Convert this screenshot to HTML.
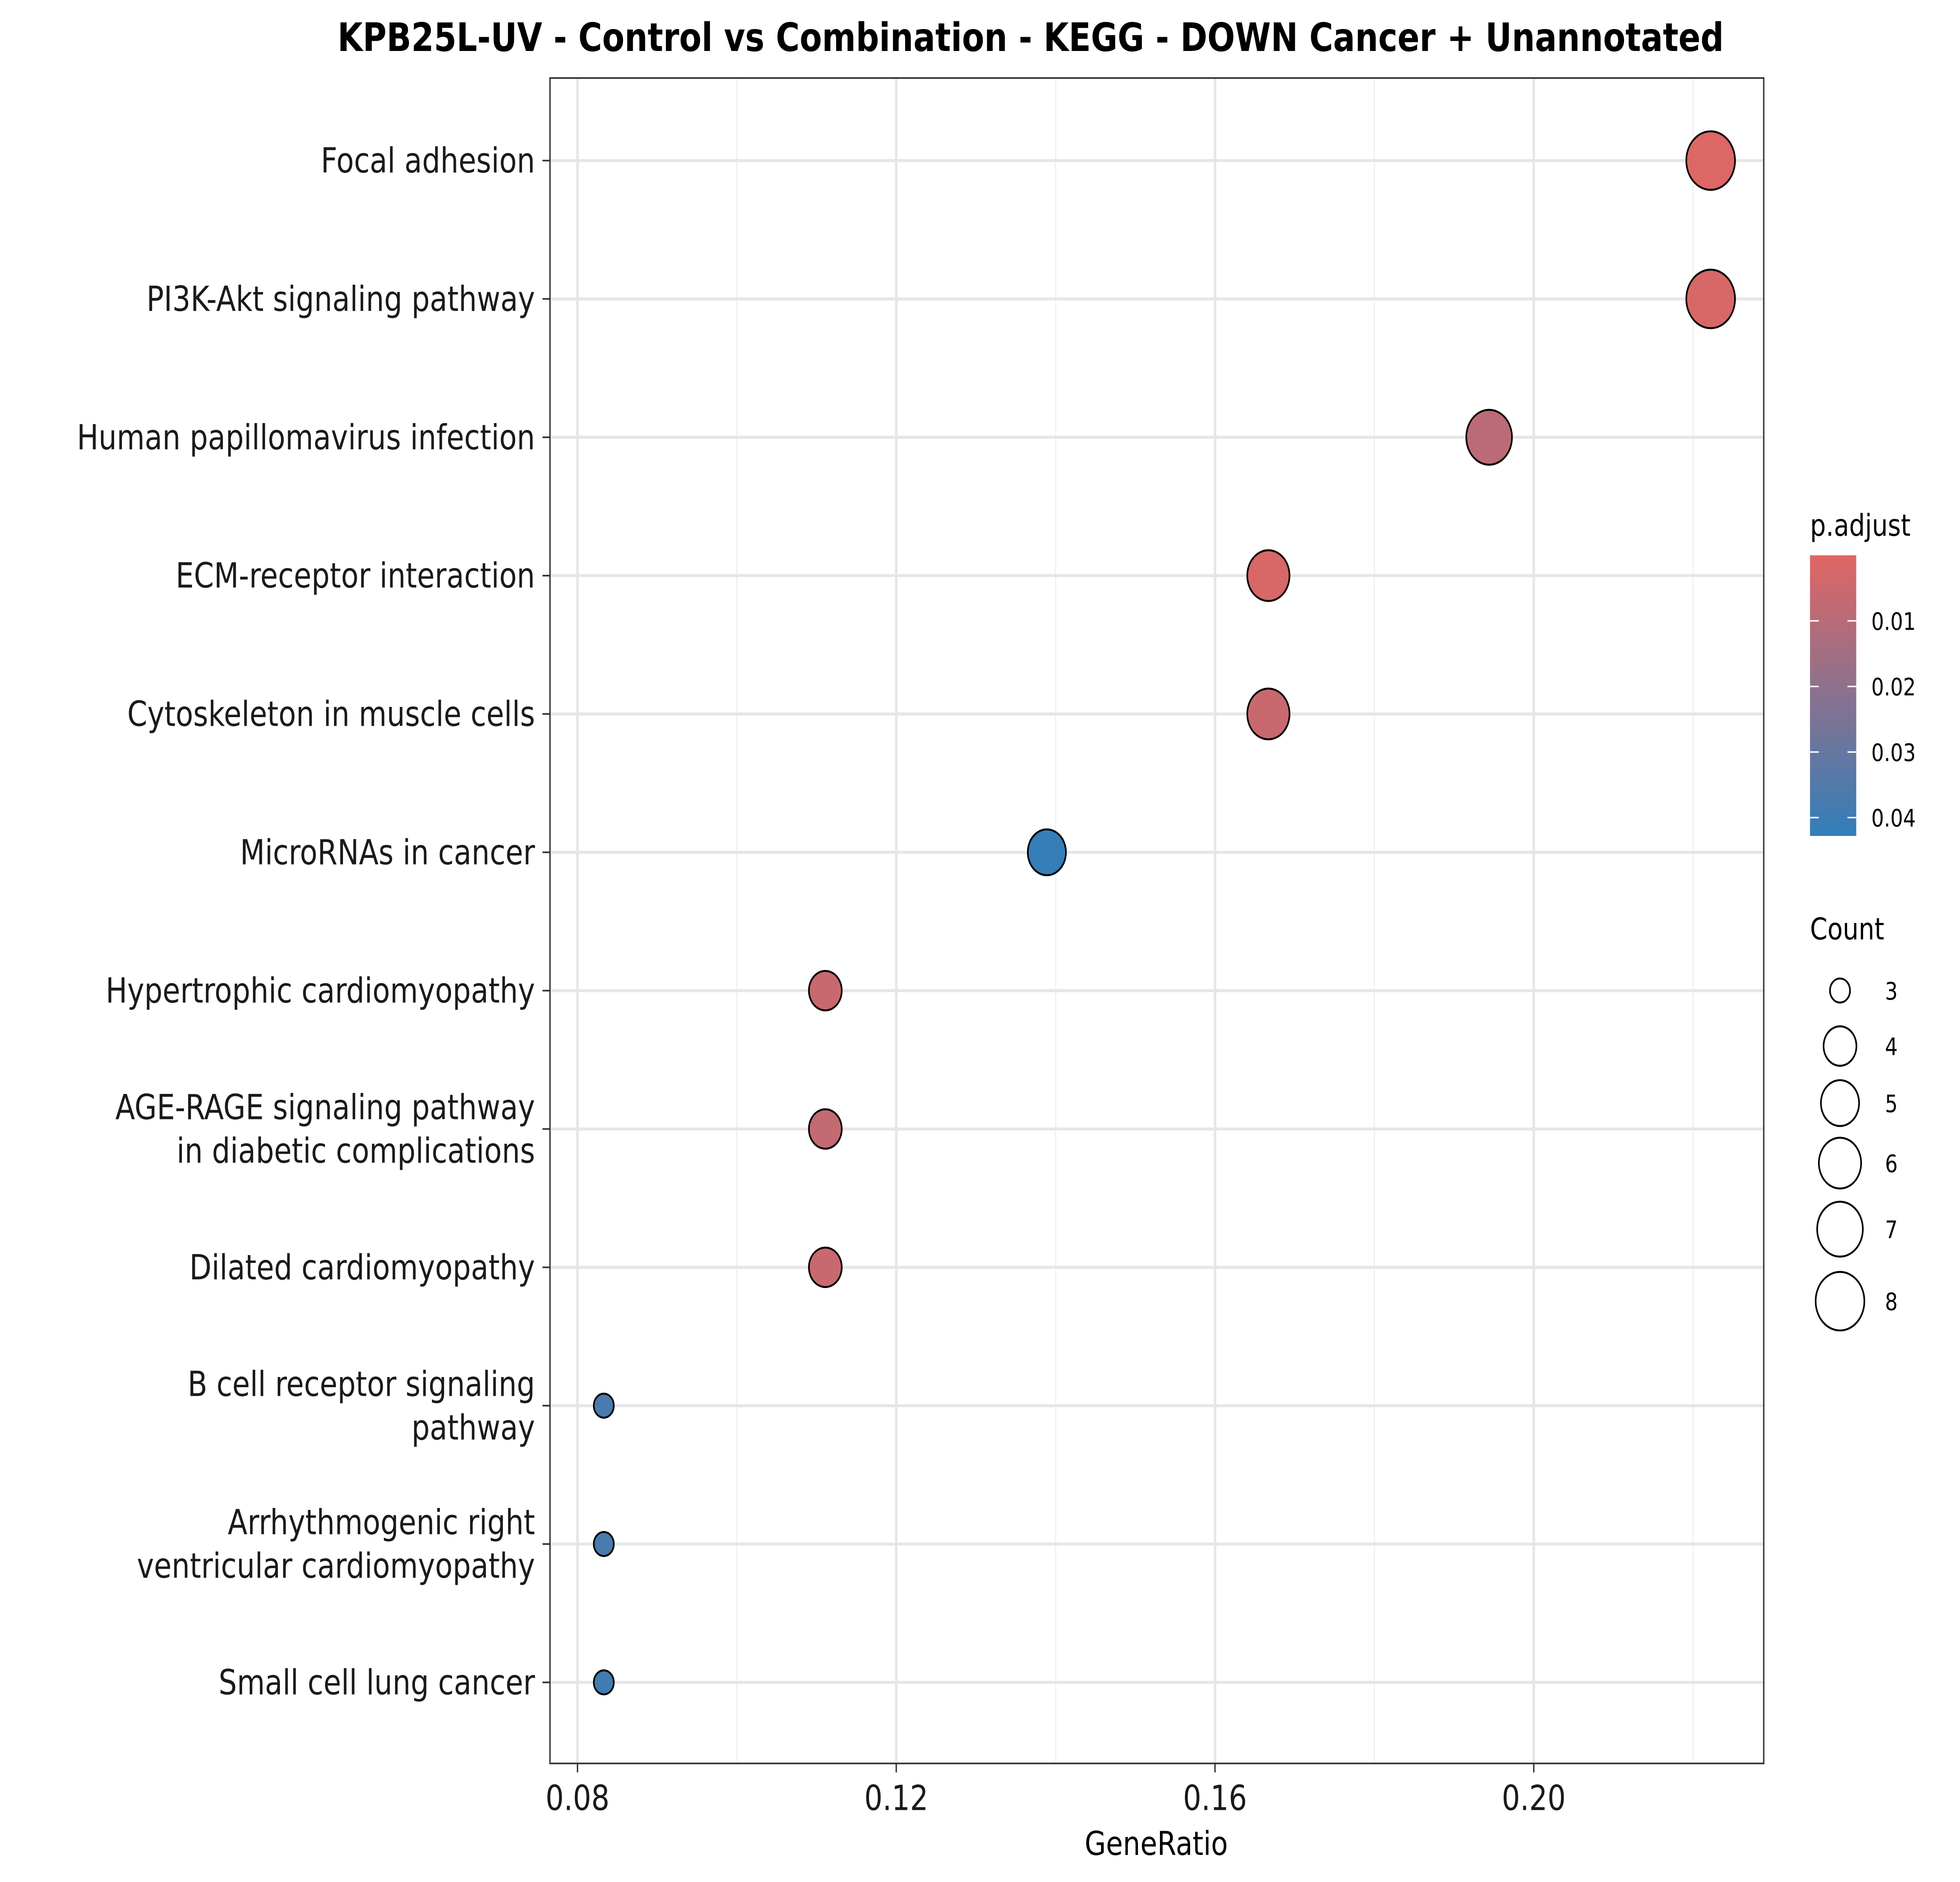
<!DOCTYPE html>
<html><head><meta charset="utf-8"><style>
html,body{margin:0;padding:0;background:#fff;overflow:hidden;width:100%;height:100%}
svg{display:block;width:100vw;height:100vh}
text{font-family:"DejaVu Sans","Liberation Sans",sans-serif}
</style></head><body>
<svg id="chart" viewBox="0 0 1568 1254" preserveAspectRatio="none" xmlns="http://www.w3.org/2000/svg">
<rect width="1568" height="1254" fill="#fff"/>
<text x="270" y="34" font-size="26" font-weight="bold">KPB25L-UV - Control vs Combination - KEGG - DOWN  Cancer + Unannotated</text>
<g id="grid"></g>
<g id="ylabels"></g>
<g id="xticks"></g>
<g id="points"></g>
<rect x="440" y="52" width="971" height="1123" fill="none" stroke="#333" stroke-width="1.1"/>
<text x="925" y="1236" font-size="22" text-anchor="middle">GeneRatio</text>
<g id="legend"></g>
</svg>
<script>
const categories=["Focal adhesion","PI3K-Akt signaling pathway","Human papillomavirus infection","ECM-receptor interaction","Cytoskeleton in muscle cells","MicroRNAs in cancer","Hypertrophic cardiomyopathy","AGE-RAGE signaling pathway|in diabetic complications","Dilated cardiomyopathy","B cell receptor signaling|pathway","Arrhythmogenic right|ventricular cardiomyopathy","Small cell lung cancer"];
const geneRatio=[0.2222,0.2222,0.1944,0.1667,0.1667,0.1389,0.1111,0.1111,0.1111,0.0833,0.0833,0.0833];
const counts=[8,8,7,6,6,5,4,4,4,3,3,3];
const padjust=[0.001,0.002,0.009,0.002,0.006,0.042,0.006,0.007,0.006,0.037,0.037,0.039];
const xTicks=[0.08,0.12,0.16,0.20];
const xTickLabels=["0.08","0.12","0.16","0.20"];
const xMinor=[0.10,0.14,0.18,0.22];
const colorTicks=[0.01,0.02,0.03,0.04];
const sizeLegend=[3,4,5,6,7,8];

const NS="http://www.w3.org/2000/svg";
function mk(t,a,p){const e=document.createElementNS(NS,t);for(const k in a)e.setAttribute(k,a[k]);p.appendChild(e);return e;}
const X=v=>462+(v-0.08)*6375;
const Y=i=>107+i*92.18;
const R=c=>8+11.5*Math.sqrt(Math.max(0,c-3)/5);
const cMax=0.0428;
function col(p){const t=Math.min(1,Math.max(0,p/cMax));const a=[224,102,99],b=[50,126,186];return `rgb(${a.map((v,i)=>Math.round(v+(b[i]-v)*t)).join(',')})`;}
const grid=document.getElementById('grid');
xMinor.forEach(v=>{const l=mk('line',{x1:X(v),x2:X(v),y1:52,y2:1175,stroke:'#f0f0f0','stroke-width':1},grid);});
xTicks.forEach(v=>{const l=mk('line',{x1:X(v),x2:X(v),y1:52,y2:1175,stroke:'#e6e6e6','stroke-width':2},grid);});
categories.forEach((c,i)=>{const l=mk('line',{x1:440,x2:1411,y1:Y(i),y2:Y(i),stroke:'#e6e6e6','stroke-width':2},grid);});
const yl=document.getElementById('ylabels');
categories.forEach((c,i)=>{const parts=c.split('|');const y=Y(i);
 const tk=mk('line',{x1:434,x2:440,y1:y,y2:y,stroke:'#333','stroke-width':1.1},yl);
 const t=mk('text',{x:428,'font-size':23,'text-anchor':'end',fill:'#1a1a1a'},yl);
 
 parts.forEach((p,j)=>{const s=mk('tspan',{x:428,y:y+8+(j-(parts.length-1)/2)*29},t);s.textContent=p;});});
const xt=document.getElementById('xticks');
xTicks.forEach((v,i)=>{const tk=mk('line',{x1:X(v),x2:X(v),y1:1175,y2:1181,stroke:'#333','stroke-width':1.1},xt);
 const t=mk('text',{x:X(v),y:1206,'font-size':23,'text-anchor':'middle',fill:'#1a1a1a'},xt);t.textContent=xTickLabels[i];});
const pts=document.getElementById('points');
categories.forEach((c,i)=>{const e=mk('circle',{cx:X(geneRatio[i]),cy:Y(i),r:R(counts[i]),fill:col(padjust[i]),stroke:'#000','stroke-width':1.3},pts);
 });
const lg=document.getElementById('legend');
let t=mk('text',{x:1448,y:357,'font-size':20},lg);t.textContent='p.adjust';
const defs=mk('defs',{},lg);const gr=mk('linearGradient',{id:'cg',x1:0,y1:0,x2:0,y2:1},defs);
for(let k=0;k<=10;k++)mk('stop',{offset:k/10,'stop-color':col(k/10*cMax)},gr);
const bar=mk('rect',{x:1448,y:370,width:37,height:187,fill:'url(#cg)'},lg);
colorTicks.forEach(v=>{const y=370+v/cMax*187;
 const a=mk('line',{x1:1448,x2:1455,y1:y,y2:y,stroke:'#fff','stroke-width':1},lg);
 const b=mk('line',{x1:1478,x2:1485,y1:y,y2:y,stroke:'#fff','stroke-width':1},lg);
 const s=mk('text',{x:1497,y:y+6,'font-size':16},lg);s.textContent=v.toFixed(2);});
t=mk('text',{x:1448,y:626,'font-size':20},lg);t.textContent='Count';
const sy=[660,697,735,775,819,867];
sizeLegend.forEach((c,i)=>{const e=mk('circle',{cx:1472,cy:sy[i],r:R(c),fill:'none',stroke:'#000','stroke-width':1.3},lg);
 const s=mk('text',{x:1508,y:sy[i]+6,'font-size':16},lg);s.textContent=String(c);});
</script>
</body></html>
